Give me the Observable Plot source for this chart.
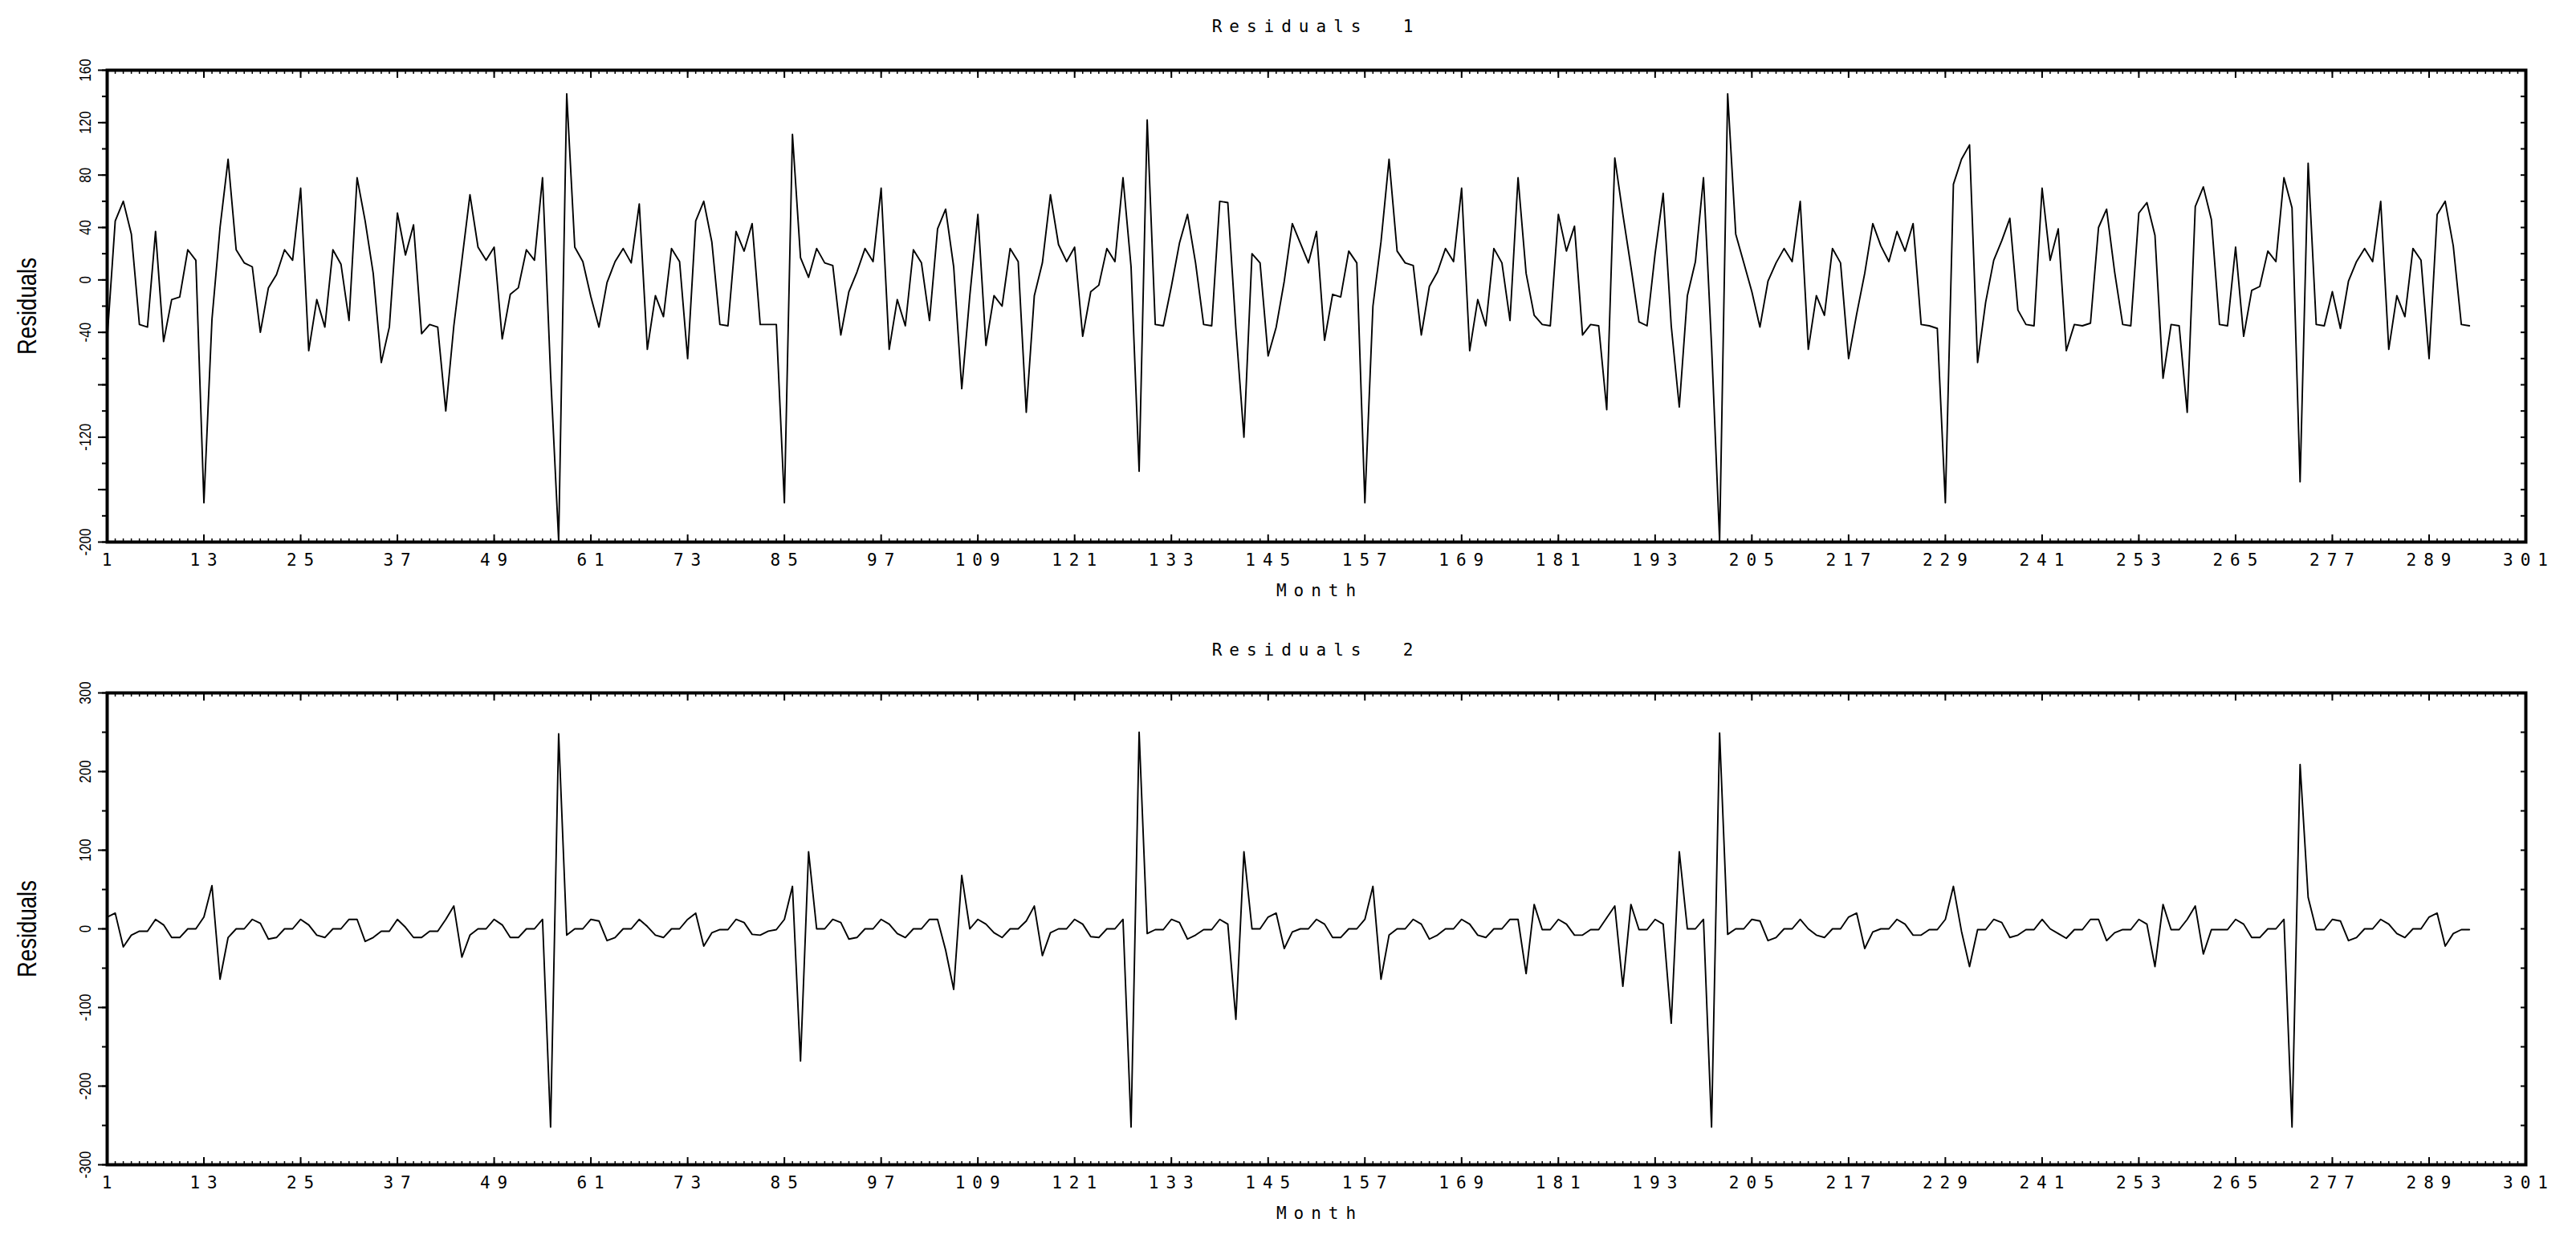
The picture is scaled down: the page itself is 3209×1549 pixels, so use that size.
<!DOCTYPE html>
<html>
<head>
<meta charset="utf-8">
<script src="https://cdn.jsdelivr.net/npm/d3@7"></script>
<script src="https://cdn.jsdelivr.net/npm/@observablehq/plot@0.6"></script>
<style>
html, body { margin: 0; padding: 0; background: #fff; }
#page { position: relative; width: 3209px; height: 1549px; overflow: hidden; background: #fff; }
.title { position: absolute; left: 133px; width: 3013px; text-align: center; font-family: "DejaVu Sans Mono", "Liberation Mono", monospace; font-size: 21px; letter-spacing: 9px; white-space: pre; color: #000; line-height: 1; z-index: 2; }
g[aria-label="x-axis tick label"] text { letter-spacing: 9px; }
</style>
</head>
<body>
<div id="page"></div>
<script>
// ---- data ----
const xTickLabels = [1, 13, 25, 37, 49, 61, 73, 85, 97, 109, 121, 133, 145, 157, 169, 181, 193, 205, 217, 229, 241, 253, 265, 277, 289, 301];
const monthTicks = d3.range(1, 302);

const yLabels1 = [160, 120, 80, 40, 0, -40, -120, -200];
const yMajor1 = [160, 120, 80, 40, 0, -40, -80, -120, -160, -200];
const yMinor1 = [160, 140, 120, 100, 80, 60, 40, 20, 0, -20, -40, -60, -80, -100, -120, -140, -160, -180, -200];

const yLabels2 = [300, 200, 100, 0, -100, -200, -300];
const yMajor2 = [300, 200, 100, 0, -100, -200, -300];
const yMinor2 = [300, 250, 200, 150, 100, 50, 0, -50, -100, -150, -200, -250, -300];

const titles = ["Residuals  1", "Residuals  2"];
const yTitle = "Residuals";
const xTitle = "Month";

// Residuals 1, months 1..294
const res1 = [
  -45, 45, 60, 35, -34, -36, 37, -47, -15, -13, 23, 15,
  -170, -30, 40, 92, 23, 13, 10, -40, -6, 4, 23, 15,
  70, -54, -15, -36, 23, 12, -31, 78, 45, 5, -63, -36,
  51, 19, 42, -41, -34, -36, -100, -35, 15, 65, 25, 15,
  25, -45, -11, -6, 23, 15, 78, -72, -199, 142, 25, 14,
  -13, -36, -2, 14, 24, 13, 58, -53, -12, -28, 24, 14,
  -60, 45, 60, 29, -34, -35, 37, 22, 43, -34, -34, -34,
  -170, 111, 17, 2, 24, 13, 11, -42, -9, 6, 24, 14,
  70, -53, -15, -35, 23, 13, -31, 39, 54, 10, -83, -12,
  50, -50, -12, -20, 24, 14, -101, -12, 13, 65, 27, 14,
  25, -43, -9, -4, 24, 14, 78, 10, -146, 122, -34, -35,
  -5, 28, 50, 13, -34, -35, 60, 59, -37, -120, 20, 13,
  -58, -36, -1, 43, 28, 13, 37, -46, -11, -13, 22, 13,
  -170, -20, 29, 92, 22, 13, 11, -42, -5, 6, 24, 14,
  70, -54, -15, -35, 24, 13, -31, 78, 5, -27, -34, -35,
  50, 22, 41, -42, -34, -35, -99, 93, 50, 10, -32, -35,
  20, 66, -35, -97, -12, 14, 78, -50, -199, 142, 35, 13,
  -9, -36, -1, 13, 24, 14, 60, -53, -12, -27, 24, 13,
  -60, -26, 5, 43, 26, 14, 37, 22, 43, -34, -35, -37,
  -170, 73, 92, 103, -63, -17, 15, 30, 47, -23, -34, -35,
  70, 15, 39, -54, -34, -35, -33, 40, 54, 6, -34, -35,
  51, 59, 34, -75, -34, -35, -101, 56, 71, 46, -34, -35,
  25, -43, -8, -5, 22, 14, 78, 55, -154, 89, -34, -35,
  -9, -37, -1, 14, 24, 14, 60, -53, -12, -28, 24, 15,
  -60, 50, 60, 26, -34, -35
];

// Residuals 2, months 1..294
const res2 = [
  15, 20, -23, -8, -3, -3, 12, 5, -11, -11, 0, 0,
  15, 55, -64, -11, 0, 0, 12, 7, -13, -11, 0, 0,
  12, 5, -8, -11, 0, 0, 12, 12, -16, -11, -3, -3,
  12, 2, -11, -11, -3, -3, 12, 29, -36, -8, 0, 0,
  12, 5, -11, -11, 0, 0, 12, -252, 248, -8, 0, 0,
  12, 10, -15, -11, 0, 0, 12, 3, -8, -11, 0, 0,
  12, 20, -22, -5, -1, -1, 12, 8, -7, -8, -3, -1,
  12, 54, -168, 98, 0, 0, 12, 8, -13, -11, 0, 0,
  12, 6, -6, -11, 0, 0, 12, 12, -27, -77, 68, 0,
  12, 6, -5, -11, 0, 0, 10, 29, -34, -5, 0, 0,
  12, 6, -10, -11, 0, 0, 12, -252, 250, -6, -1, -1,
  12, 8, -13, -8, -1, -1, 12, 6, -115, 98, 0, 0,
  15, 20, -25, -4, 0, 0, 12, 6, -11, -11, 0, 0,
  12, 54, -64, -8, 0, 0, 12, 6, -13, -8, 0, 0,
  12, 6, -8, -11, 0, 0, 12, 12, -57, 31, -1, -1,
  12, 6, -8, -8, -1, -1, 14, 29, -73, 31, -1, -1,
  12, 6, -120, 98, 0, 0, 12, -252, 249, -7, 0, 0,
  12, 10, -15, -11, 0, 0, 12, 0, -8, -11, 0, 0,
  15, 20, -25, -4, 0, 0, 12, 6, -8, -8, -1, -1,
  12, 54, -3, -48, -1, -1, 12, 8, -11, -8, -1, -1,
  12, 0, -6, -12, -1, -1, 12, 12, -15, -5, -1, -1,
  12, 6, -48, 31, -1, -1, 12, 29, -32, -1, -1, -1,
  12, 6, -11, -11, 0, 0, 12, -252, 209, 40, -1, -1,
  12, 10, -15, -11, 0, 0, 12, 6, -6, -11, 0, 0,
  15, 20, -22, -6, -1, -1
];

// ---- drawing ----
const MONO = "'DejaVu Sans Mono', 'Liberation Mono', monospace";
const NARROW = "'Liberation Sans Narrow', 'Liberation Sans', Arial, sans-serif";

function panel(values, yDomain, yLabels, yMajor, yMinor, height, marginTop, marginBottom) {
  const data = values.map((v, i) => ({month: i + 1, value: v}));
  return Plot.plot({
    width: 3209,
    height,
    marginLeft: 133,
    marginRight: 63,
    marginTop,
    marginBottom,
    x: {domain: [1, 301], axis: null},
    y: {domain: yDomain, axis: null},
    style: {background: "white", color: "black", fontFamily: MONO, fontSize: "21px", overflow: "visible"},
    marks: [
      Plot.line(data, {x: "month", y: "value", stroke: "black", strokeWidth: 1.9}),
      Plot.axisX(monthTicks, {anchor: "bottom", tickSize: 4, dy: -4, fill: "none", strokeWidth: 1.5}),
      Plot.axisX(monthTicks, {anchor: "top", tickSize: 4, dy: 4, fill: "none", strokeWidth: 1.5}),
      Plot.axisX(xTickLabels, {anchor: "bottom", tickSize: 9, dy: -9, fill: "none", strokeWidth: 2}),
      Plot.axisX(xTickLabels, {anchor: "top", tickSize: 9, dy: 9, fill: "none", strokeWidth: 2}),
      Plot.axisX(xTickLabels, {anchor: "bottom", tickSize: 0, tickPadding: 15, dx: 4, tickFormat: d => String(d), label: null, fontFamily: MONO, fontSize: 21}),
      Plot.axisY(yMinor, {anchor: "left", tickSize: 6, fill: "none", strokeWidth: 2}),
      Plot.axisY(yMajor, {anchor: "left", tickSize: 11, fill: "none", strokeWidth: 2}),
      Plot.axisY(yMinor, {anchor: "right", tickSize: 7, dx: -7, fill: "none", strokeWidth: 2}),
      Plot.text(yLabels, {y: d => d, frameAnchor: "left", dx: -21, rotate: -90, textAnchor: "middle", lineAnchor: "bottom", text: d => String(d), fontFamily: NARROW, fontSize: 20}),
      Plot.frame({stroke: "black", strokeWidth: 4}),
      Plot.text([yTitle], {frameAnchor: "left", text: d => d, rotate: -90, dx: -99, fontFamily: NARROW, fontSize: 34}),
      Plot.text([xTitle], {frameAnchor: "bottom", text: d => d, dy: 67, dx: 4, fontFamily: MONO, fontSize: 21})
    ]
  });
}

// post-styling: narrow lettering on the y side (kept centred), spaced lettering for "Month"
function squeeze(t, len) {
  t.setAttribute("textLength", len.toFixed(1));
  t.setAttribute("lengthAdjust", "spacingAndGlyphs");
  t.setAttribute("text-anchor", "start");
  t.setAttribute("x", (-len / 2).toFixed(1));
}
function finish(svg, yLabels) {
  const labelSet = new Set(yLabels.map(String));
  svg.querySelectorAll("text").forEach(t => {
    const g = t.parentNode;
    const gl = (g && g.getAttribute && g.getAttribute("aria-label")) || "";
    if (gl.startsWith("x-axis")) return;
    const s = t.textContent;
    if (s === yTitle) {
      squeeze(t, 121);
    } else if (s === xTitle) {
      t.style.letterSpacing = "9px";
    } else if (labelSet.has(s)) {
      const tr = t.getAttribute("transform") || "";
      if (!/rotate/.test(tr)) t.setAttribute("transform", tr + " rotate(-90)");
      squeeze(t, t.getComputedTextLength() * 0.85);
    }
  });
}

const page = document.getElementById("page");

const p1 = panel(res1, [-200, 160], yLabels1, yMajor1, yMinor1, 770, 87, 95);
p1.style.position = "absolute"; p1.style.left = "0px"; p1.style.top = "0px";
page.appendChild(p1);
finish(p1, yLabels1);

const p2 = panel(res2, [-300, 300], yLabels2, yMajor2, yMinor2, 779, 93, 98);
p2.style.position = "absolute"; p2.style.left = "0px"; p2.style.top = "770px";
page.appendChild(p2);
finish(p2, yLabels2);

[[titles[0], 23], [titles[1], 800]].forEach(([t, top]) => {
  const d = document.createElement("div");
  d.className = "title";
  d.style.top = top + "px";
  d.textContent = t;
  page.appendChild(d);
});
</script>
</body>
</html>
